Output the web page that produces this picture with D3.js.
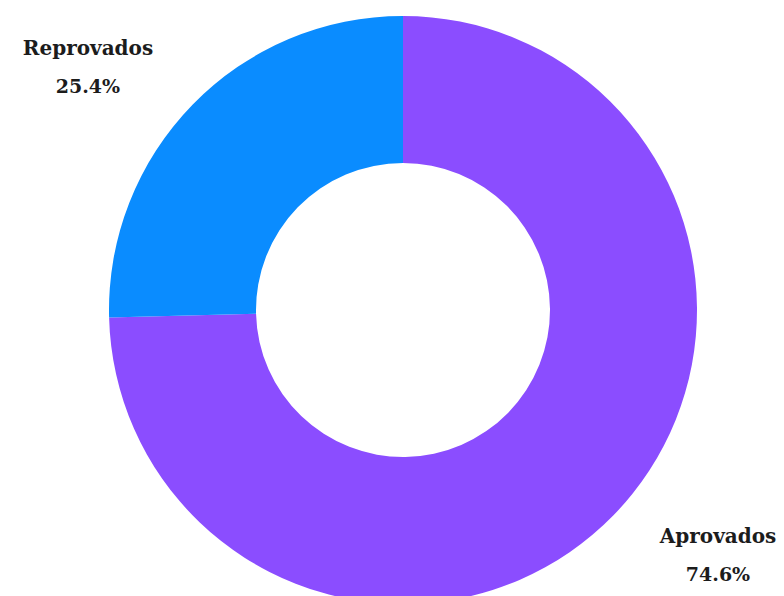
<!DOCTYPE html>
<html>
<head>
<meta charset="utf-8">
<script src="https://cdn.jsdelivr.net/npm/d3@7"></script>
<style>
  body { margin: 0; background: #fff; }
  text { font-family: "DejaVu Serif", Georgia, serif; font-weight: bold; fill: #1c1c1c; }
</style>
</head>
<body>
<div id="chart"></div>
<script>
// Donut - aprovados x reprovados

const width = 784,
    height = 596,
    cx = 403, cy = 310,
    outer = 294, inner = 147;

const labels = ["Aprovados", "Reprovados"];
const values = [74.6, 25.4];
const colors = ["#8b4dff", "#0a8cff"];

const svg = d3.select("#chart")
    .append("svg")
    .attr("width", width)
    .attr("height", height)
    .attr("viewBox", [0, 0, width, height]);

const data = labels.map((l, i) => ({ label: l, value: values[i], color: colors[i] }));

const pie = d3.pie()
    .sort(null)
    .value(d => d.value);

const arc = d3.arc()
    .innerRadius(inner)
    .outerRadius(outer);

const unit = d3.arc().innerRadius(1).outerRadius(1); // direction only

const g = svg.append("g")
    .attr("transform", `translate(${cx},${cy})`);

const arcs = pie(data);

g.selectAll("path")
  .data(arcs)
  .join("path")
    .attr("d", arc)
    .attr("fill", d => d.data.color);

// labels sit on an ellipse around the ring
const rx = 440, ry = 349;

const lab = g.selectAll("g.lab")
  .data(arcs)
  .join("g")
    .attr("class", "lab")
    .attr("transform", d => {
      const [x, y] = unit.centroid(d);
      return `translate(${x * rx},${y * ry})`;
    });

lab.append("text")
    .attr("text-anchor", "middle")
    .attr("y", -11)
    .attr("font-size", 20)
    .text(d => d.data.label);

lab.append("text")
    .attr("text-anchor", "middle")
    .attr("y", 27)
    .attr("font-size", 19)
    .text(d => d.data.value + "%");
</script>
</body>
</html>
